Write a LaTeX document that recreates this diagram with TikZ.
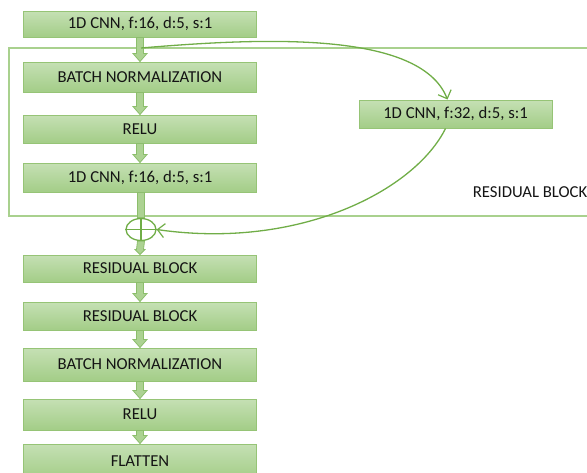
\documentclass[tikz,border=0pt]{standalone}
\usepackage{fontspec}
\setmainfont{Carlito}
\usetikzlibrary{arrows.meta,shapes.geometric,calc}
\definecolor{boxtop}{RGB}{197,224,180}
\definecolor{boxbot}{RGB}{163,205,135}
\definecolor{boxedge}{RGB}{150,196,118}
\definecolor{linegreen}{RGB}{112,173,71}
\definecolor{lightline}{RGB}{169,209,142}
\definecolor{txt}{RGB}{20,20,20}
\definecolor{arrfill}{RGB}{172,210,146}
\definecolor{arredge}{RGB}{140,190,108}
\newcommand\blockarr[4]{%
  \filldraw[barrow] ($(#1.south)+(-3.5,0)$) -- ($(#1.south)+(3.5,0)$) --
    ($(#2.north)+(3.5,-#3)$) -- ($(#2.north)+(#4,-#3)$) -- (#2.north) --
    ($(#2.north)+(-#4,-#3)$) -- ($(#2.north)+(-3.5,-#3)$) -- cycle;}
\begin{document}
\begin{tikzpicture}[x=1pt,y=-1pt,
  layer/.style={draw=boxedge,line width=1pt,top color=boxtop,bottom color=boxbot,
    minimum width=233pt,inner sep=0pt,text=txt,font=\fontsize{16.7}{19}\selectfont},
  barrow/.style={fill=arrfill,draw=arredge,line width=0.8pt,line join=miter},
  curve/.style={draw=linegreen,line width=1.3pt,-{Straight Barb[length=7pt,width=14pt,line width=1.2pt]}},
  label/.style={text=txt,font=\fontsize{16.7}{19}\selectfont,inner sep=0pt}]
\useasboundingbox (0,0) rectangle (587,472);
% residual block outline
\draw[lightline,line width=1.3pt] (588,48) -| (9,216) -- (588,216);
% nodes
\node[layer,minimum height=26pt] (c1) at (140,24) {1D CNN, f:16, d:5, s:1};
\node[layer,minimum height=30pt] (bn1) at (140,77) {BATCH NORMALIZATION};
\node[layer,minimum height=28pt] (r1) at (140,129) {RELU};
\node[layer,minimum height=29pt] (c2) at (140,177.5) {1D CNN, f:16, d:5, s:1};
\node[draw=linegreen,line width=1.3pt,ellipse,minimum width=30pt,minimum height=22pt,inner sep=0pt] (sum) at (141,229.5) {};
\node[layer,minimum height=27pt] (rb1) at (140,268.5) {RESIDUAL BLOCK};
\node[layer,minimum height=28pt] (rb2) at (140,316) {RESIDUAL BLOCK};
\node[layer,minimum height=33pt] (bn2) at (140,364.5) {BATCH NORMALIZATION};
\node[layer,minimum height=31pt] (r2) at (140,414.5) {RELU};
\node[layer,minimum height=35pt] (fl) at (140,461.5) {FLATTEN};
\node[layer,minimum width=193pt,minimum height=28pt] (cr) at (455.5,114) {1D CNN, f:32, d:5, s:1};
\node[label,anchor=east] (lbl) at (587.5,192) {RESIDUAL BLOCK};
% plus sign
\draw[linegreen,line width=1.2pt] (sum.north) -- (sum.south);
\draw[linegreen,line width=1.2pt] (sum.west) -- (sum.east);
% block arrows
\blockarr{c1}{bn1}{8}{7}
\blockarr{bn1}{r1}{8}{7}
\blockarr{r1}{c2}{8}{7}
\filldraw[barrow] ($(c2.south)+(-3,0)$) rectangle ($(sum.north)+(3,0)$);
\blockarr{sum}{rb1}{5}{5}
\blockarr{rb1}{rb2}{8}{7}
\blockarr{rb2}{bn2}{8}{7}
\blockarr{bn2}{r2}{8}{7}
\blockarr{r2}{fl}{8}{7}
% skip connection
\coordinate (split) at (141,48);
\draw[curve] (split) .. controls (260,38) and (420,30) .. ([xshift=-8pt]cr.north);
\draw[curve] ([xshift=-10pt]cr.south) .. controls (415,190) and (300,250) .. (sum.east);
\end{tikzpicture}
\end{document}
